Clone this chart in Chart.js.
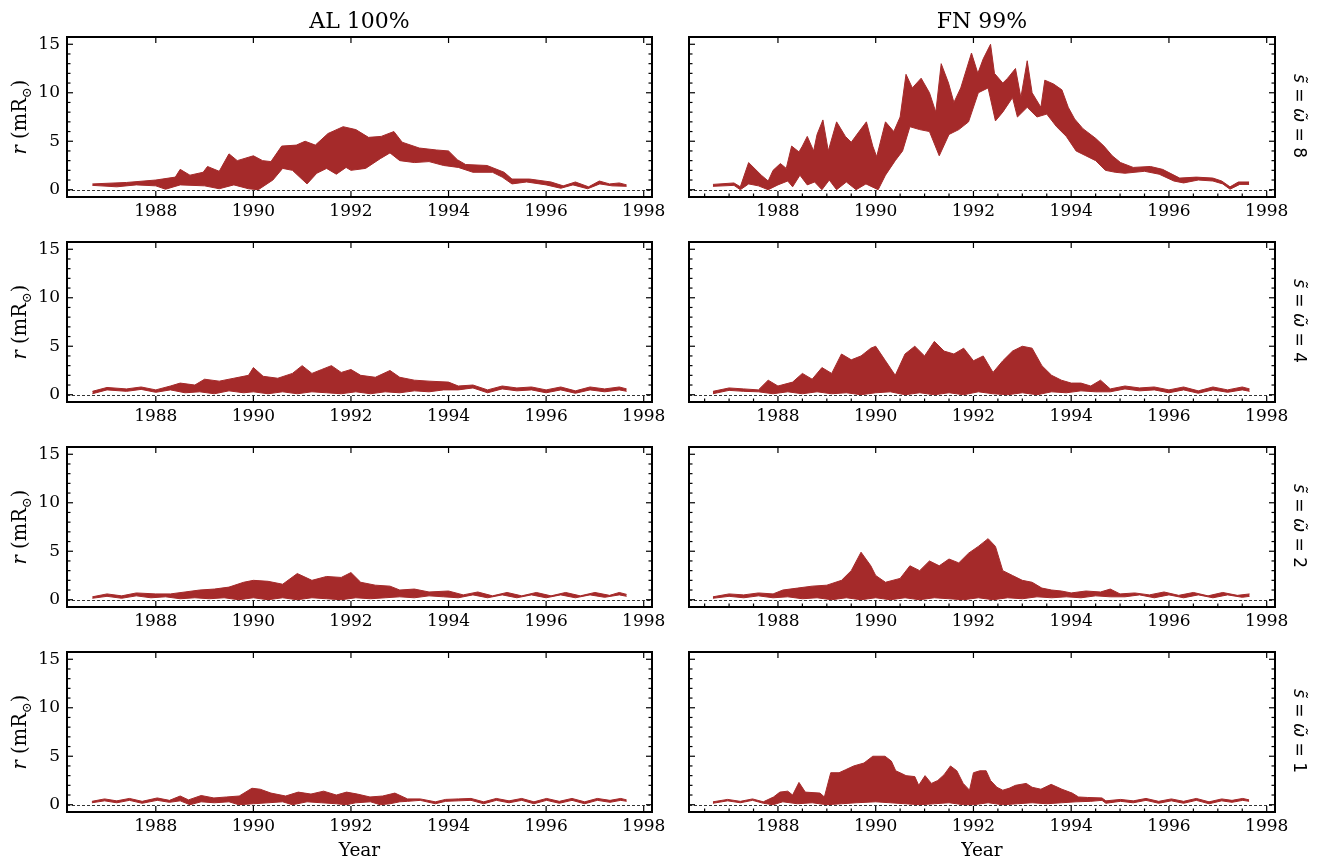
<!DOCTYPE html>
<html>
<head>
<meta charset="utf-8">
<script src="https://cdn.jsdelivr.net/npm/chart.js@4.4.1/dist/chart.umd.min.js"></script>
<style>
  body { margin: 0; background: #fff; width: 1317px; height: 863px; position: relative; overflow: hidden; font-family: "DejaVu Serif", serif; color: #000; }
  canvas { position: absolute; }
  .lbl { position: absolute; white-space: nowrap; transform: translate(-50%, -50%); }
  .title { font-size: 22px; }
  .xlab { font-size: 18.5px; }
  .ylab { font-size: 19.5px; transform: translate(-50%, -50%) rotate(-90deg); }
  .ylab sub { font-size: 13px; }
  .side { font-family: "DejaVu Sans", sans-serif; font-size: 17px; transform: translate(-50%, -50%) rotate(90deg); }
</style>
</head>
<body>
<script>
// r envelopes (mR_sun), as [year, value] pairs.
// Each panel is the band between an upper and a lower envelope.

const AL_S8_UPPER = [[1986.7,0.6],[1987.4,0.75],[1988.0,1.0],[1988.4,1.3],[1988.5,2.1],[1988.7,1.5],[1988.97,1.8],[1989.06,2.4],[1989.3,1.9],[1989.5,3.7],[1989.67,3.0],[1990.0,3.5],[1990.19,3.0],[1990.36,2.9],[1990.58,4.5],[1990.88,4.6],[1991.06,5.0],[1991.27,4.6],[1991.53,5.8],[1991.84,6.5],[1992.1,6.2],[1992.36,5.4],[1992.62,5.5],[1992.88,6.0],[1993.05,4.9],[1993.4,4.3],[1993.75,4.1],[1994.0,4.0],[1994.18,3.1],[1994.35,2.6],[1994.79,2.5],[1995.14,1.8],[1995.3,1.1],[1995.66,1.1],[1996.1,0.8],[1996.35,0.4],[1996.6,0.8],[1996.87,0.3],[1997.09,0.9],[1997.3,0.6],[1997.5,0.7],[1997.65,0.5]];
const AL_S8_LOWER = [[1986.7,0.45],[1987.2,0.3],[1987.6,0.5],[1988.0,0.4],[1988.2,0.05],[1988.5,0.5],[1989.0,0.4],[1989.3,0.1],[1989.6,0.5],[1989.9,0.1],[1990.1,0.0],[1990.4,1.0],[1990.6,2.2],[1990.8,2.0],[1991.1,0.6],[1991.3,1.7],[1991.5,2.2],[1991.7,1.6],[1991.9,2.3],[1992.0,2.0],[1992.3,2.2],[1992.6,3.2],[1992.8,3.8],[1993.0,3.0],[1993.3,2.8],[1993.6,2.9],[1993.9,2.5],[1994.2,2.3],[1994.5,1.8],[1994.9,1.8],[1995.1,1.3],[1995.3,0.6],[1995.6,0.8],[1996.0,0.5],[1996.3,0.15],[1996.55,0.5],[1996.85,0.1],[1997.1,0.6],[1997.35,0.4],[1997.65,0.35]];

const FN_S8_UPPER = [[1986.67,0.55],[1987.1,0.7],[1987.23,0.3],[1987.4,2.8],[1987.66,1.5],[1987.8,0.9],[1987.9,2.0],[1988.05,2.7],[1988.17,2.2],[1988.28,4.5],[1988.43,3.9],[1988.5,4.5],[1988.6,5.5],[1988.73,4.0],[1988.8,5.7],[1988.92,7.2],[1989.03,4.0],[1989.2,7.0],[1989.38,5.5],[1989.5,4.9],[1989.66,6.0],[1989.81,7.0],[1989.94,4.5],[1990.02,3.4],[1990.2,7.0],[1990.37,6.0],[1990.5,7.5],[1990.62,11.9],[1990.75,10.5],[1990.93,11.5],[1991.1,10.0],[1991.23,8.0],[1991.34,13.0],[1991.49,11.0],[1991.6,9.0],[1991.74,10.5],[1991.96,14.1],[1992.09,12.0],[1992.2,13.5],[1992.35,15.0],[1992.43,12.0],[1992.6,11.0],[1992.7,11.5],[1992.86,12.5],[1992.97,9.5],[1993.1,13.3],[1993.2,10.0],[1993.38,8.5],[1993.46,11.3],[1993.64,10.9],[1993.81,10.3],[1993.94,8.5],[1994.07,7.3],[1994.24,6.3],[1994.5,5.3],[1994.67,4.5],[1994.84,3.5],[1995.01,2.8],[1995.27,2.3],[1995.62,2.4],[1995.87,2.1],[1996.22,1.2],[1996.56,1.3],[1996.9,1.2],[1997.08,0.9],[1997.25,0.3],[1997.42,0.8],[1997.64,0.8]];
const FN_S8_LOWER = [[1986.67,0.35],[1987.1,0.45],[1987.23,0.0],[1987.4,0.6],[1987.6,0.4],[1987.8,0.0],[1988.0,0.5],[1988.2,0.9],[1988.3,0.3],[1988.45,1.5],[1988.6,0.5],[1988.75,0.8],[1988.9,0.0],[1989.05,1.0],[1989.2,0.0],[1989.4,0.8],[1989.6,0.0],[1989.8,0.6],[1990.05,0.0],[1990.2,1.5],[1990.4,3.0],[1990.55,4.0],[1990.7,6.5],[1990.9,6.2],[1991.1,6.0],[1991.3,3.5],[1991.5,5.7],[1991.7,6.2],[1991.9,7.0],[1992.1,10.0],[1992.3,10.5],[1992.45,7.1],[1992.6,8.0],[1992.8,9.5],[1992.9,7.5],[1993.1,8.5],[1993.3,7.5],[1993.5,7.8],[1993.7,6.5],[1993.9,5.5],[1994.1,4.0],[1994.3,3.5],[1994.5,3.0],[1994.7,2.0],[1994.9,1.8],[1995.1,1.7],[1995.5,1.9],[1995.8,1.6],[1996.1,0.9],[1996.3,0.7],[1996.6,1.0],[1996.9,0.9],[1997.1,0.6],[1997.25,0.05],[1997.45,0.55],[1997.64,0.55]];

const AL_S4_UPPER = [[1986.7,0.35],[1987.0,0.75],[1987.4,0.6],[1987.7,0.8],[1988.0,0.5],[1988.3,0.9],[1988.5,1.2],[1988.8,1.0],[1989.0,1.6],[1989.3,1.4],[1989.6,1.7],[1989.9,2.0],[1990.0,2.8],[1990.2,1.9],[1990.5,1.7],[1990.8,2.2],[1991.0,3.0],[1991.2,2.2],[1991.4,2.6],[1991.6,3.0],[1991.8,2.3],[1992.0,2.6],[1992.2,2.0],[1992.5,1.8],[1992.8,2.5],[1993.0,1.8],[1993.3,1.5],[1993.6,1.4],[1994.0,1.3],[1994.2,0.9],[1994.5,1.0],[1994.8,0.5],[1995.1,0.9],[1995.4,0.7],[1995.7,0.8],[1996.0,0.5],[1996.3,0.8],[1996.6,0.4],[1996.9,0.8],[1997.2,0.6],[1997.5,0.8],[1997.65,0.6]];
const AL_S4_LOWER = [[1986.7,0.1],[1987.0,0.5],[1987.4,0.35],[1987.7,0.55],[1988.0,0.25],[1988.3,0.5],[1988.6,0.2],[1988.9,0.3],[1989.2,0.1],[1989.5,0.4],[1989.8,0.2],[1990.0,0.3],[1990.3,0.1],[1990.6,0.3],[1990.9,0.1],[1991.2,0.3],[1991.5,0.2],[1991.8,0.1],[1992.1,0.3],[1992.4,0.1],[1992.7,0.3],[1993.0,0.2],[1993.3,0.4],[1993.6,0.3],[1993.9,0.5],[1994.2,0.5],[1994.5,0.7],[1994.8,0.2],[1995.1,0.6],[1995.4,0.4],[1995.7,0.5],[1996.0,0.2],[1996.3,0.5],[1996.6,0.15],[1996.9,0.5],[1997.2,0.3],[1997.5,0.5],[1997.65,0.35]];

const FN_S4_UPPER = [[1986.67,0.35],[1987.0,0.7],[1987.3,0.6],[1987.6,0.5],[1987.8,1.5],[1988.0,0.9],[1988.3,1.3],[1988.5,2.2],[1988.7,1.6],[1988.9,2.8],[1989.1,2.2],[1989.3,4.2],[1989.5,3.6],[1989.7,4.0],[1989.9,4.8],[1990.0,5.0],[1990.2,3.5],[1990.4,2.0],[1990.6,4.2],[1990.8,5.0],[1991.0,4.0],[1991.2,5.5],[1991.4,4.5],[1991.6,4.2],[1991.8,4.8],[1992.0,3.5],[1992.2,4.0],[1992.4,2.3],[1992.6,3.5],[1992.8,4.5],[1993.0,5.0],[1993.2,4.8],[1993.4,3.0],[1993.6,2.0],[1993.8,1.5],[1994.0,1.2],[1994.2,1.2],[1994.4,0.9],[1994.6,1.5],[1994.8,0.6],[1995.1,0.9],[1995.4,0.7],[1995.7,0.8],[1996.0,0.5],[1996.3,0.8],[1996.6,0.4],[1996.9,0.8],[1997.2,0.5],[1997.5,0.8],[1997.65,0.6]];
const FN_S4_LOWER = [[1986.67,0.1],[1987.0,0.45],[1987.3,0.35],[1987.6,0.3],[1987.9,0.1],[1988.2,0.3],[1988.5,0.1],[1988.8,0.3],[1989.1,0.1],[1989.4,0.2],[1989.7,0.0],[1990.0,0.2],[1990.3,0.3],[1990.6,0.0],[1990.9,0.2],[1991.2,0.0],[1991.5,0.2],[1991.8,0.0],[1992.1,0.3],[1992.4,0.1],[1992.7,0.0],[1993.0,0.2],[1993.3,0.0],[1993.6,0.3],[1993.9,0.2],[1994.2,0.4],[1994.5,0.3],[1994.8,0.3],[1995.1,0.6],[1995.4,0.4],[1995.7,0.5],[1996.0,0.2],[1996.3,0.5],[1996.6,0.15],[1996.9,0.5],[1997.2,0.25],[1997.5,0.5],[1997.65,0.35]];

const AL_S2_UPPER = [[1986.7,0.3],[1987.0,0.6],[1987.3,0.4],[1987.6,0.7],[1988.0,0.6],[1988.3,0.6],[1988.6,0.8],[1988.9,1.0],[1989.2,1.1],[1989.5,1.3],[1989.8,1.8],[1990.0,2.0],[1990.3,1.9],[1990.6,1.6],[1990.9,2.7],[1991.2,2.0],[1991.5,2.4],[1991.8,2.3],[1992.0,2.8],[1992.2,1.8],[1992.5,1.5],[1992.8,1.4],[1993.0,1.0],[1993.3,1.1],[1993.6,0.8],[1994.0,0.9],[1994.3,0.5],[1994.6,0.8],[1994.9,0.4],[1995.2,0.75],[1995.5,0.4],[1995.8,0.75],[1996.1,0.4],[1996.4,0.75],[1996.7,0.4],[1997.0,0.75],[1997.3,0.45],[1997.5,0.75],[1997.65,0.55]];
const AL_S2_LOWER = [[1986.7,0.15],[1987.0,0.35],[1987.3,0.15],[1987.6,0.4],[1987.9,0.2],[1988.2,0.3],[1988.5,0.1],[1988.8,0.2],[1989.1,0.1],[1989.4,0.2],[1989.7,0.0],[1990.0,0.2],[1990.3,0.0],[1990.6,0.2],[1990.9,0.0],[1991.2,0.2],[1991.5,0.1],[1991.8,0.0],[1992.1,0.2],[1992.4,0.1],[1992.7,0.2],[1993.0,0.3],[1993.3,0.2],[1993.6,0.4],[1993.9,0.3],[1994.2,0.2],[1994.5,0.5],[1994.8,0.2],[1995.1,0.5],[1995.4,0.2],[1995.7,0.5],[1996.0,0.2],[1996.3,0.5],[1996.6,0.2],[1996.9,0.5],[1997.2,0.25],[1997.5,0.5],[1997.65,0.35]];

const FN_S2_UPPER = [[1986.67,0.3],[1987.0,0.6],[1987.3,0.5],[1987.6,0.7],[1987.9,0.6],[1988.1,1.0],[1988.4,1.2],[1988.7,1.4],[1989.0,1.5],[1989.3,2.0],[1989.5,3.0],[1989.7,4.9],[1989.9,3.5],[1990.0,2.5],[1990.2,1.8],[1990.5,2.2],[1990.7,3.5],[1990.9,3.0],[1991.1,4.0],[1991.3,3.5],[1991.5,4.2],[1991.7,3.8],[1991.9,4.8],[1992.1,5.5],[1992.3,6.3],[1992.45,5.5],[1992.6,3.0],[1992.8,2.5],[1993.0,2.0],[1993.2,1.8],[1993.4,1.2],[1993.6,1.0],[1993.8,0.9],[1994.0,0.7],[1994.3,0.9],[1994.6,0.8],[1994.8,1.1],[1995.0,0.6],[1995.3,0.7],[1995.6,0.5],[1995.9,0.8],[1996.2,0.45],[1996.5,0.75],[1996.8,0.4],[1997.1,0.75],[1997.4,0.45],[1997.65,0.6]];
const FN_S2_LOWER = [[1986.67,0.15],[1987.0,0.35],[1987.3,0.2],[1987.6,0.4],[1987.9,0.2],[1988.2,0.3],[1988.5,0.1],[1988.8,0.2],[1989.1,0.0],[1989.4,0.2],[1989.7,0.0],[1990.0,0.2],[1990.3,0.0],[1990.6,0.2],[1990.9,0.0],[1991.2,0.2],[1991.5,0.1],[1991.8,0.0],[1992.1,0.2],[1992.4,0.0],[1992.7,0.2],[1993.0,0.1],[1993.3,0.3],[1993.6,0.2],[1993.9,0.3],[1994.2,0.2],[1994.5,0.4],[1994.8,0.3],[1995.1,0.3],[1995.4,0.5],[1995.7,0.2],[1996.0,0.5],[1996.3,0.2],[1996.6,0.5],[1996.9,0.2],[1997.2,0.5],[1997.5,0.25],[1997.65,0.35]];

const AL_S1_UPPER = [[1986.69,0.35],[1986.95,0.6],[1987.2,0.4],[1987.46,0.65],[1987.72,0.35],[1988.03,0.7],[1988.28,0.45],[1988.5,0.9],[1988.67,0.5],[1988.93,0.95],[1989.19,0.7],[1989.45,0.8],[1989.71,0.9],[1989.97,1.7],[1990.14,1.6],[1990.36,1.2],[1990.66,0.9],[1990.92,1.3],[1991.18,1.1],[1991.44,1.4],[1991.7,1.0],[1991.91,1.3],[1992.13,1.1],[1992.39,0.8],[1992.65,0.9],[1992.9,1.2],[1993.16,0.6],[1993.42,0.6],[1993.73,0.3],[1993.94,0.55],[1994.2,0.6],[1994.46,0.65],[1994.72,0.3],[1994.98,0.65],[1995.24,0.4],[1995.5,0.65],[1995.75,0.3],[1996.01,0.65],[1996.27,0.35],[1996.53,0.65],[1996.79,0.3],[1997.05,0.65],[1997.31,0.45],[1997.53,0.65],[1997.65,0.5]];
const AL_S1_LOWER = [[1986.69,0.2],[1986.95,0.4],[1987.2,0.2],[1987.46,0.45],[1987.72,0.15],[1988.03,0.45],[1988.28,0.25],[1988.5,0.4],[1988.7,0.0],[1988.93,0.3],[1989.2,0.2],[1989.5,0.3],[1989.7,0.0],[1990.0,0.1],[1990.3,0.2],[1990.6,0.3],[1990.8,0.0],[1991.1,0.3],[1991.4,0.2],[1991.7,0.1],[1991.9,0.0],[1992.1,0.2],[1992.4,0.3],[1992.6,0.0],[1992.8,0.1],[1993.0,0.3],[1993.16,0.35],[1993.42,0.45],[1993.73,0.1],[1993.94,0.35],[1994.2,0.4],[1994.46,0.45],[1994.72,0.1],[1994.98,0.45],[1995.24,0.2],[1995.5,0.45],[1995.75,0.1],[1996.01,0.45],[1996.27,0.15],[1996.53,0.45],[1996.79,0.1],[1997.05,0.45],[1997.31,0.25],[1997.53,0.45],[1997.65,0.35]];

const FN_S1_UPPER = [[1986.67,0.3],[1986.97,0.55],[1987.23,0.35],[1987.48,0.6],[1987.7,0.3],[1987.91,0.8],[1988.04,1.3],[1988.2,1.4],[1988.3,1.0],[1988.43,2.3],[1988.56,1.3],[1988.86,1.2],[1988.95,0.8],[1989.08,3.3],[1989.25,3.3],[1989.38,3.6],[1989.55,4.0],[1989.76,4.3],[1989.94,5.0],[1990.19,5.0],[1990.32,4.5],[1990.41,3.5],[1990.54,3.2],[1990.62,3.0],[1990.8,2.9],[1990.88,2.0],[1991.01,3.0],[1991.14,2.2],[1991.27,2.5],[1991.4,3.1],[1991.53,4.0],[1991.66,3.5],[1991.79,2.2],[1991.92,1.5],[1992.0,3.3],[1992.13,3.5],[1992.26,3.5],[1992.35,2.5],[1992.48,1.8],[1992.6,1.5],[1992.73,1.7],[1992.86,2.0],[1993.08,2.2],[1993.2,1.8],[1993.38,1.6],[1993.59,2.1],[1993.81,1.6],[1994.02,1.2],[1994.15,0.8],[1994.33,0.75],[1994.63,0.7],[1994.71,0.4],[1995.01,0.55],[1995.27,0.4],[1995.53,0.65],[1995.79,0.35],[1996.05,0.6],[1996.3,0.35],[1996.56,0.65],[1996.82,0.3],[1997.08,0.6],[1997.29,0.45],[1997.51,0.65],[1997.64,0.5]];
const FN_S1_LOWER = [[1986.67,0.15],[1986.97,0.4],[1987.23,0.2],[1987.48,0.45],[1987.7,0.15],[1987.9,0.0],[1988.1,0.3],[1988.4,0.1],[1988.7,0.2],[1989.0,0.0],[1989.3,0.1],[1989.6,0.2],[1990.0,0.3],[1990.3,0.2],[1990.6,0.1],[1990.9,0.0],[1991.2,0.1],[1991.5,0.2],[1991.8,0.0],[1992.0,0.0],[1992.3,0.2],[1992.6,0.0],[1992.9,0.1],[1993.2,0.2],[1993.5,0.1],[1993.8,0.2],[1994.1,0.3],[1994.4,0.35],[1994.63,0.45],[1994.71,0.15],[1995.01,0.35],[1995.27,0.2],[1995.53,0.45],[1995.79,0.15],[1996.05,0.4],[1996.3,0.15],[1996.56,0.45],[1996.82,0.1],[1997.08,0.4],[1997.29,0.25],[1997.51,0.45],[1997.64,0.35]];

// axes
const X_TICKS = [1988, 1990, 1992, 1994, 1996, 1998];
const Y_TICKS = [0, 5, 10, 15];
const X_RANGE = [1986.18, 1998.17];
const Y_RANGE = [-0.75, 15.75];

const COL_TITLES = ['AL 100%', 'FN 99%'];
const ROW_LABELS = ['8', '4', '2', '1'];

const BAND = '#a52a2a';

// layout (px)
const COL_LEFT = [67, 689];
const COL_WIDTH = [585, 586];
const ROW_TOP = [37, 242, 447, 652];
const PLOT_H = 160;
const PAD_L = 60, PAD_T = 22, PAD_R = 24, PAD_B = 36;

const PANELS = [
  { row: 0, col: 0, upper: AL_S8_UPPER, lower: AL_S8_LOWER },
  { row: 0, col: 1, upper: FN_S8_UPPER, lower: FN_S8_LOWER },
  { row: 1, col: 0, upper: AL_S4_UPPER, lower: AL_S4_LOWER },
  { row: 1, col: 1, upper: FN_S4_UPPER, lower: FN_S4_LOWER },
  { row: 2, col: 0, upper: AL_S2_UPPER, lower: AL_S2_LOWER },
  { row: 2, col: 1, upper: FN_S2_UPPER, lower: FN_S2_LOWER },
  { row: 3, col: 0, upper: AL_S1_UPPER, lower: AL_S1_LOWER },
  { row: 3, col: 1, upper: FN_S1_UPPER, lower: FN_S1_LOWER }
];

Chart.defaults.font.family = '"DejaVu Serif", serif';
Chart.defaults.font.size = 17;
Chart.defaults.color = '#000';

// frame, inward ticks and the dashed r = 0 line, matplotlib style
const frameTicks = {
  id: 'frameTicks',
  afterDatasetsDraw(chart, args, opts) {
    const { ctx, chartArea: a, scales: { x, y } } = chart;
    const seg = (x1, y1, x2, y2) => { ctx.beginPath(); ctx.moveTo(x1, y1); ctx.lineTo(x2, y2); ctx.stroke(); };
    ctx.save();
    ctx.strokeStyle = '#000';

    const y0 = Math.round(y.getPixelForValue(0)) + 0.5;
    ctx.lineWidth = 0.8;
    ctx.setLineDash([3, 2]);
    seg(a.left, y0, a.right, y0);
    ctx.setLineDash([]);

    ctx.lineWidth = 1.2;
    X_TICKS.forEach(v => {
      const px = x.getPixelForValue(v);
      seg(px, a.bottom, px, a.bottom - 6);
      seg(px, a.top, px, a.top + 6);
    });
    if (opts.xMinor) {
      for (let v = 1986.5; v < X_RANGE[1]; v += 0.5) {
        if (v < X_RANGE[0] || v % 2 === 0) continue;
        const px = x.getPixelForValue(v);
        seg(px, a.bottom, px, a.bottom - 3.5);
      }
    }
    Y_TICKS.forEach(v => {
      const py = y.getPixelForValue(v);
      seg(a.left, py, a.left + 6, py);
      seg(a.right, py, a.right - 6, py);
    });
    for (let v = 0; v <= 15; v++) {
      if (v % 5 === 0) continue;
      const py = y.getPixelForValue(v);
      seg(a.left, py, a.left + 3.5, py);
      seg(a.right, py, a.right - 3.5, py);
    }

    ctx.lineWidth = 2;
    ctx.strokeRect(a.left, a.top, a.right - a.left, a.bottom - a.top);
    ctx.restore();
  }
};

const toXY = pts => pts.map(([x, y]) => ({ x, y }));

function addLabel(cls, html, cx, cy) {
  const el = document.createElement('div');
  el.className = 'lbl ' + cls;
  el.innerHTML = html;
  el.style.left = cx + 'px';
  el.style.top = cy + 'px';
  document.body.appendChild(el);
}

function renderPanel(p) {
  const w = COL_WIDTH[p.col], left = COL_LEFT[p.col], top = ROW_TOP[p.row];
  const canvas = document.createElement('canvas');
  canvas.width = PAD_L + w + PAD_R;
  canvas.height = PAD_T + PLOT_H + PAD_B;
  canvas.style.left = (left - PAD_L) + 'px';
  canvas.style.top = (top - PAD_T) + 'px';
  document.body.appendChild(canvas);

  new Chart(canvas, {
    type: 'line',
    data: {
      datasets: [
        { data: toXY(p.upper), borderColor: BAND, backgroundColor: BAND, borderWidth: 1, pointRadius: 0, tension: 0, fill: '+1' },
        { data: toXY(p.lower), borderColor: BAND, backgroundColor: BAND, borderWidth: 1, pointRadius: 0, tension: 0, fill: false }
      ]
    },
    options: {
      responsive: false,
      devicePixelRatio: 1,
      animation: false,
      events: [],
      layout: { padding: { left: 0, top: PAD_T, right: PAD_R, bottom: 0 } },
      plugins: { legend: { display: false }, tooltip: { enabled: false }, frameTicks: { xMinor: p.col === 1 } },
      scales: {
        x: {
          type: 'linear', min: X_RANGE[0], max: X_RANGE[1],
          afterBuildTicks: s => { s.ticks = X_TICKS.map(v => ({ value: v })); },
          afterFit: s => { s.height = PAD_B; },
          grid: { display: false, drawTicks: false },
          border: { display: false },
          ticks: { callback: v => String(v), padding: 4, maxRotation: 0, autoSkip: false }
        },
        y: {
          type: 'linear', min: Y_RANGE[0], max: Y_RANGE[1],
          afterBuildTicks: s => { s.ticks = Y_TICKS.map(v => ({ value: v })); },
          afterFit: s => { s.width = PAD_L; },
          grid: { display: false, drawTicks: false },
          border: { display: false },
          ticks: { display: p.col === 0, callback: v => String(v), padding: 7 }
        }
      }
    },
    plugins: [frameTicks]
  });
}

PANELS.forEach(renderPanel);

COL_TITLES.forEach((t, c) => addLabel('title', t, COL_LEFT[c] + COL_WIDTH[c] / 2, 20));
[0, 1].forEach(c => addLabel('xlab', 'Year', COL_LEFT[c] + COL_WIDTH[c] / 2, 849));
ROW_TOP.forEach((t, r) => {
  addLabel('ylab', '<i>r</i> (mR<sub>⊙</sub>)', 21, t + PLOT_H / 2);
  addLabel('side', '<i>s̃</i> = <i>ω̃</i> = ' + ROW_LABELS[r], 1300, t + PLOT_H / 2 - 1);
});
</script>
</body>
</html>
